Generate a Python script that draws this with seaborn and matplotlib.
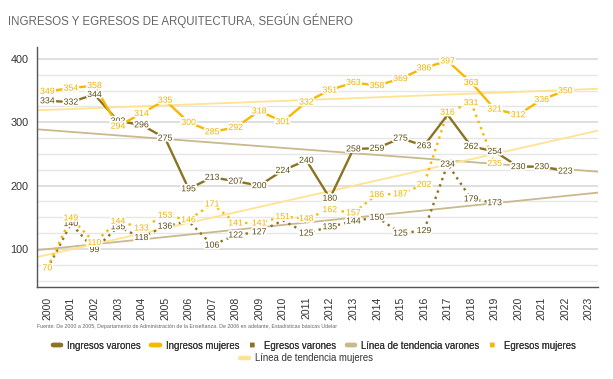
import numpy as np
import pandas as pd
import matplotlib
matplotlib.use("Agg")
import matplotlib.pyplot as plt
import matplotlib.patheffects as pe
from matplotlib.lines import Line2D
import seaborn as sns

years = list(range(2000, 2024))

nan = np.nan
ingresos_varones = [334, 332, 344, 302, 296, 275, 195, 213, 207, 200, 224, 240,
                    180, 258, 259, 275, 263, 312, 262, 254, 230, 230, 223, nan]
ingresos_mujeres = [349, 354, 358, 294, 314, 335, 300, 285, 292, 318, 301, 332,
                    351, 363, 358, 369, 386, 397, 363, 321, 312, 336, 350, nan]
egresos_varones = [68, 140, 99, 135, 118, 136, 144, 106, 122, 127, 145, 125,
                   135, 144, 150, 125, 129, 234, 179, 173, nan, nan, nan, nan]
egresos_mujeres = [70, 149, 110, 144, 133, 153, 146, 171, 141, 141, 151, 148,
                   162, 157, 186, 187, 202, 316, 331, 235, nan, nan, nan, nan]

# trend lines, values at the left and right edge of the plot
tend_ing_varones = [289, 222]
tend_egr_varones = [98, 189]
tend_ing_mujeres = [319, 353]
tend_egr_mujeres = [87, 287]

# labels hidden behind other labels in the original
no_label = {"Ingresos varones": [17], "Egresos varones": [0, 6, 10]}

OLIVE = "#8c7322"
OLIVE_TXT = "#5e4c12"
GOLD = "#f7b900"
GOLD_TXT = "#f2b200"
TAN = "#c9b98c"
LIGHT = "#ffe391"

sns.set_style("white")
plt.rcParams['font.family'] = ['Liberation Sans', 'DejaVu Sans']

fig = plt.figure(figsize=(6.13, 3.79), dpi=100)
ax = fig.add_axes([0.060, 0.243, 0.916, 0.633])

x = np.arange(len(years))
xlo, xhi = -0.45, 23.4

# gridlines
for v in range(50, 425, 25):
    ax.axhline(v, color="#e6e6e6" if v % 100 else "#dcdcdc",
               lw=1.0 if v % 100 else 1.3, zorder=0)

# trend lines
edge_x = [xlo, xhi]
sns.lineplot(x=edge_x, y=tend_ing_varones, color=TAN, lw=1.3, ax=ax)
sns.lineplot(x=edge_x, y=tend_egr_varones, color=TAN, lw=1.3, ax=ax)
sns.lineplot(x=edge_x, y=tend_ing_mujeres, color=LIGHT, lw=1.3, ax=ax)
sns.lineplot(x=edge_x, y=tend_egr_mujeres, color=LIGHT, lw=1.3, ax=ax)

series = [
    ("Egresos varones", egresos_varones, OLIVE, OLIVE_TXT, (0, (1, 1.8))),
    ("Egresos mujeres", egresos_mujeres, GOLD, GOLD_TXT, (0, (1, 1.8))),
    ("Ingresos varones", ingresos_varones, OLIVE, OLIVE_TXT, "-"),
    ("Ingresos mujeres", ingresos_mujeres, GOLD, GOLD_TXT, "-"),
]

for name, vals, col, tcol, ls in series:
    df = pd.DataFrame({"x": x, "y": vals}).dropna()
    sns.lineplot(data=df, x="x", y="y", color=col, lw=1.7, linestyle=ls, ax=ax)
    skip = no_label.get(name, [])
    for xi, yi in zip(df["x"], df["y"]):
        if xi in skip:
            continue
        ax.text(xi, yi, f"{int(yi)}", ha="center", va="center", fontsize=6.3,
                color=tcol, zorder=5,
                path_effects=[pe.withStroke(linewidth=2.5, foreground="white")])

ax.set_xlim(xlo, xhi)
ax.set_ylim(40, 419)
ax.set_xticks(x)
ax.set_xticklabels([str(y) for y in years], rotation=90, fontsize=7.5, color="#333333")
ax.set_yticks([100, 200, 300, 400])
ax.set_yticklabels(["100", "200", "300", "400"], fontsize=7.8, color="#333333")
ax.tick_params(axis="x", length=4, width=0.8, color="#555555", pad=3)
ax.tick_params(axis="y", length=0, pad=6)
ax.set_xlabel("")
ax.set_ylabel("")
for s in ["top", "right"]:
    ax.spines[s].set_visible(False)
for s in ["left", "bottom"]:
    ax.spines[s].set_color("#555555")
    ax.spines[s].set_linewidth(1.0)

fig.text(0.013, 0.945, "INGRESOS Y EGRESOS DE ARQUITECTURA, SEGÚN GÉNERO",
         fontsize=8.3, color="#666666", ha="left", va="center")
fig.text(0.060, 0.138, "Fuente: De 2000 a 2005, Departamento de Administración de la "
         "Enseñanza. De 2006 en adelante, Estadísticas básicas Udelar",
         fontsize=3.8, color="#666666", ha="left", va="center")

def handle(col, ls):
    return Line2D([0], [0], color=col, lw=3.2, linestyle=ls)

row1 = [handle(OLIVE, "-"), handle(GOLD, "-"), handle(OLIVE, (0, (1, 1.2))),
        handle(TAN, "-"), handle(GOLD, (0, (1, 1.2)))]
lab1 = ["Ingresos varones", "Ingresos mujeres", "Egresos varones",
        "Línea de tendencia varones", "Egresos mujeres"]
leg1 = fig.legend(row1, lab1, loc="center", bbox_to_anchor=(0.513, 0.088), ncol=5,
                  frameon=False, fontsize=6.9, handlelength=0.9, handletextpad=0.6,
                  columnspacing=1.1, labelcolor="#333333")
fig.legend([handle(LIGHT, "-")], ["Línea de tendencia mujeres"], loc="center",
           bbox_to_anchor=(0.5, 0.055), frameon=False, fontsize=6.9,
           handlelength=0.9, handletextpad=0.6, labelcolor="#333333")
fig.add_artist(leg1)

fig.savefig("out.png", dpi=100)
